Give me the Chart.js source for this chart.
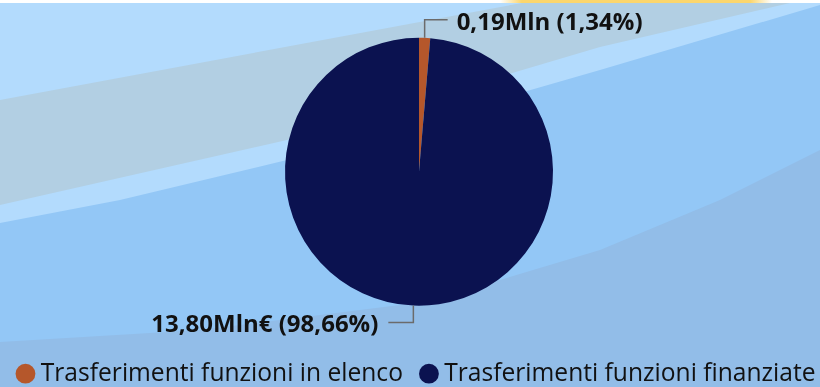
<!DOCTYPE html>
<html>
<head>
<meta charset="utf-8">
<script src="https://cdn.jsdelivr.net/npm/chart.js@4.4.1/dist/chart.umd.min.js"></script>
<style>
  html, body { margin: 0; padding: 0; width: 820px; height: 387px; overflow: hidden; }
  #wrap { position: relative; width: 820px; height: 387px; overflow: hidden; }
  #bg { position: absolute; left: 0; top: 0; }
  /* canvas is a bit taller/wider than the window so the legend sits on the bottom edge
     and the long legend row never wraps */
  #box { position: absolute; left: -11px; top: -8px; width: 860px; height: 404px; }
</style>
</head>
<body>
<div id="wrap">
  <!-- Power BI style wavy background -->
  <svg id="bg" width="820" height="387" xmlns="http://www.w3.org/2000/svg">
    <defs>
      <linearGradient id="yel" x1="0" x2="1" y1="0" y2="0">
        <stop offset="0" stop-color="#ffffff"/>
        <stop offset="0.08" stop-color="#fcd66c"/>
        <stop offset="0.92" stop-color="#fcd66c"/>
        <stop offset="1" stop-color="#ffffff"/>
      </linearGradient>
    </defs>
    <rect x="0" y="0" width="820" height="387" fill="#b3dbfd"/>
    <path d="M0,100 L522,3 L790,3 L600,47 L287,140 L0,205 Z" fill="#b2cfe3"/>
    <path d="M820,5 L600,70 L287,160 L120,200 L0,223 L0,387 L820,387 Z" fill="#93c7f6"/>
    <path d="M820,150 L720,200 L600,250 L500,280 L400,305 L200,330 L0,342 L0,387 L820,387 Z" fill="#92bde8"/>
    <rect x="0" y="0" width="820" height="3" fill="#ffffff"/>
    <rect x="500" y="0" width="272" height="3" fill="url(#yel)"/>
  </svg>
  <div id="box"><canvas id="chart"></canvas></div>
</div>
<script>
// ---- data ----
const categories = ['Trasferimenti funzioni in elenco', 'Trasferimenti funzioni finanziate'];
const shares = [1.34, 98.66];          // percent of total
const amounts = [0.19, 13.80];         // millions
const amountUnits = ['Mln', 'Mln€'];
const sliceColors = ['#b5572b', '#0b1250'];

function fmt(n) {
  return n.toFixed(2).replace('.', ',');
}

// leader line + label for each slice, placed from the arc geometry
const leaderLabels = {
  id: 'leaderLabels',
  afterDatasetsDraw(chart) {
    const ctx = chart.ctx;
    const meta = chart.getDatasetMeta(0);
    meta.data.forEach((arc, i) => {
      const p = arc.getProps(['x', 'y', 'startAngle', 'endAngle', 'outerRadius'], true);
      const mid = (p.startAngle + p.endAngle) / 2;
      const x0 = p.x + Math.cos(mid) * p.outerRadius;
      const y0 = p.y + Math.sin(mid) * p.outerRadius;
      const up = Math.sin(mid) < 0;
      const right = Math.cos(mid) >= 0;
      const y1 = y0 + (up ? -18 : 17);
      const x1 = x0 + (right ? 23 : -25);

      ctx.save();
      ctx.strokeStyle = '#6b6b6b';
      ctx.lineWidth = 1.5;
      ctx.beginPath();
      ctx.moveTo(x0, y0);
      ctx.lineTo(x0, y1);
      ctx.lineTo(x1, y1);
      ctx.stroke();

      const text = fmt(amounts[i]) + amountUnits[i] + ' (' + fmt(shares[i]) + '%)';
      ctx.font = 'bold 24px "Open Sans"';
      ctx.fillStyle = '#111111';
      ctx.textBaseline = 'middle';
      ctx.textAlign = right ? 'left' : 'right';
      ctx.fillText(text, x1 + (right ? 9 : -10), y1 + 3);
      ctx.restore();
    });
  }
};

const ctx = document.getElementById('chart').getContext('2d');
new Chart(ctx, {
  type: 'pie',
  data: {
    labels: categories,
    datasets: [{
      data: shares,
      backgroundColor: sliceColors,
      borderWidth: 0
    }]
  },
  options: {
    responsive: true,
    maintainAspectRatio: false,
    animation: false,
    events: [],
    radius: 134,
    layout: { padding: { top: 13, left: 0, right: 0, bottom: 0 } },
    plugins: {
      legend: {
        position: 'bottom',
        labels: {
          usePointStyle: true,
          pointStyle: 'circle',
          boxWidth: 6,
          boxHeight: 14,
          padding: 23,
          color: '#111111',
          font: { family: 'Open Sans', size: 24.6 }
        }
      },
      tooltip: { enabled: false }
    }
  },
  plugins: [leaderLabels]
});
</script>
</body>
</html>
